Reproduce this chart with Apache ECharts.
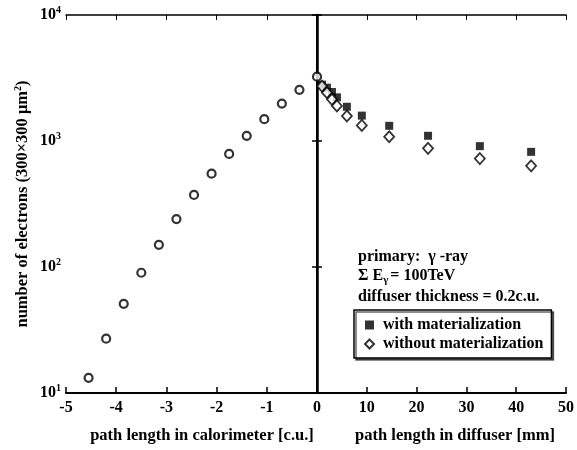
<!DOCTYPE html>
<html><head><meta charset="utf-8">
<script src="https://cdn.jsdelivr.net/npm/echarts@6/dist/echarts.min.js"></script>
<style>html,body{margin:0;padding:0;background:#fff}#c{width:577px;height:450px}</style>
</head><body><div id="c"></div>
<script>
// ---- data ----
const calX = [-4.55, -4.2, -3.85, -3.5, -3.15, -2.8, -2.45, -2.1, -1.75, -1.4, -1.05, -0.7, -0.35, 0];
const calY = [13.2, 27, 51, 90, 150, 240, 373, 550, 790, 1100, 1490, 1980, 2550, 3240];
const difX = [1, 2, 3, 4, 6, 9, 14.5, 22.3, 32.7, 43];
const withMat = [2800, 2650, 2450, 2220, 1870, 1590, 1320, 1100, 910, 820];
const withoutMat = [2730, 2420, 2140, 1900, 1580, 1330, 1080, 875, 725, 635];
const calTicks = [-5, -4, -3, -2, -1, 0];
const difTicks = [0, 10, 20, 30, 40, 50];
const legendNames = ['with materialization', 'without materialization'];
const xTitleCal = 'path length in calorimeter [c.u.]';
const xTitleDif = 'path length in diffuser [mm]';
const notes = ['primary:  \u03b3 -ray', '\u03a3 E', '\u03b3', '= 100TeV', 'diffuser thickness = 0.2c.u.'];

const FF = '"Liberation Serif", "DejaVu Serif", serif';
const txt = {fontFamily: FF, fontWeight: 'bold', color: '#000'};
const FS = 16;
const chart = echarts.init(document.getElementById('c'), null, {renderer: 'canvas'});
const L = 66, MID = 317, R = 566, T = 15, B = 393;
const line = {lineStyle: {color: '#000', width: 2}};
const supRich = {
  b: Object.assign({fontSize: FS}, txt),
  s: Object.assign({fontSize: 10, verticalAlign: 'bottom', padding: [0, 0, 10, 0]}, txt)
};
const logFmt = v => '{b|10}{s|' + Math.round(Math.log10(v)) + '}';
const gtext = (x, y, s, extra) => ({type: 'text', x: x, y: y,
  style: Object.assign({text: s, fontSize: FS, fontFamily: FF, fontWeight: 'bold', fill: '#000'}, extra || {})});

const option = {
  animation: false,
  grid: [
    {left: L, top: T, width: MID - L, height: B - T},
    {left: MID, top: T, width: R - MID, height: B - T}
  ],
  xAxis: [
    {gridIndex: 0, type: 'value', min: calTicks[0], max: calTicks[calTicks.length - 1], interval: 1,
     axisLine: line, axisTick: {inside: true, length: 6, lineStyle: {color: '#000', width: 1.5}},
     axisLabel: Object.assign({fontSize: FS, margin: 7}, txt), splitLine: {show: false}},
    {gridIndex: 1, type: 'value', min: difTicks[0], max: difTicks[difTicks.length - 1], interval: 10,
     axisLine: line, axisTick: {inside: true, length: 6, lineStyle: {color: '#000', width: 1.5}},
     axisLabel: Object.assign({fontSize: FS, margin: 7, showMinLabel: false}, txt), splitLine: {show: false}},
    {gridIndex: 0, type: 'value', position: 'top', min: -5, max: 0, interval: 1,
     axisLine: {lineStyle: {color: '#000', width: 1.5}}, axisTick: {inside: true, length: 5, lineStyle: {color: '#000'}},
     axisLabel: {show: false}, splitLine: {show: false}},
    {gridIndex: 1, type: 'value', position: 'top', min: 0, max: 50, interval: 10,
     axisLine: {lineStyle: {color: '#000', width: 1.5}}, axisTick: {inside: true, length: 5, lineStyle: {color: '#000'}},
     axisLabel: {show: false}, splitLine: {show: false}}
  ],
  yAxis: [
    {gridIndex: 0, type: 'log', logBase: 10, min: 10, max: 10000,
     axisLine: line, axisTick: {inside: true, length: 5, lineStyle: {color: '#000', width: 1.5}},
     axisLabel: {formatter: logFmt, rich: supRich, margin: 5}, splitLine: {show: false},
     name: 'number of electrons (300\u00d7300 \u03bcm{s|2})', nameLocation: 'middle', nameGap: 33,
     nameTextStyle: Object.assign({fontSize: 16.5, rich: {s: Object.assign({fontSize: 10, verticalAlign: 'bottom', padding: [0, 0, 10, 0]}, txt)}}, txt)},
    {gridIndex: 1, type: 'log', logBase: 10, min: 10, max: 10000,
     axisLine: {lineStyle: {color: '#000', width: 2.5}}, axisTick: {show: false},
     axisLabel: {show: false}, splitLine: {show: false}},
    {gridIndex: 1, type: 'log', logBase: 10, min: 10, max: 10000, position: 'right',
     axisLine: line, axisTick: {inside: true, length: 5, lineStyle: {color: '#000', width: 1.5}},
     axisLabel: {show: false}, splitLine: {show: false}}
  ],
  legend: {
    orient: 'vertical', left: 354, top: 310, padding: [7, 8, 6, 10], itemGap: 3,
    itemWidth: 9, itemHeight: 9, borderColor: '#000', borderWidth: 1.5, backgroundColor: '#fff',
    shadowColor: 'rgba(0,0,0,0.6)', shadowOffsetX: 2, shadowOffsetY: 2, shadowBlur: 0,
    textStyle: Object.assign({fontSize: FS, padding: [0, 0, 0, 4]}, txt),
    data: legendNames
  },
  graphic: [
    gtext(358, 257, notes[0], {textVerticalAlign: 'middle'}),
    {type: 'text', x: 358, y: 276, style: {
      text: '{b|' + notes[1] + '}{s|' + notes[2] + '}{b|' + notes[3] + '}', textVerticalAlign: 'middle',
      rich: {b: Object.assign({fontSize: FS}, txt), s: Object.assign({fontSize: 11, verticalAlign: 'top', padding: [9, 2, 0, 0]}, txt)}}},
    gtext(358, 297, notes[4], {textVerticalAlign: 'middle'}),
    gtext(202, 436, xTitleCal, {textAlign: 'center', textVerticalAlign: 'middle', fontSize: 16.5}),
    gtext(455, 436, xTitleDif, {textAlign: 'center', textVerticalAlign: 'middle', fontSize: 16.5})
  ],
  series: [
    {type: 'scatter', name: 'calorimeter', xAxisIndex: 0, yAxisIndex: 0, clip: false,
     symbol: 'circle', symbolSize: 8,
     itemStyle: {color: '#fff', borderColor: '#000', borderWidth: 2.2},
     data: calX.map((x, i) => [x, calY[i]]), z: 5},
    {type: 'scatter', name: legendNames[0], xAxisIndex: 1, yAxisIndex: 1, clip: false,
     symbol: 'rect', symbolSize: 8, itemStyle: {color: '#000'},
     data: difX.map((x, i) => [x, withMat[i]]), z: 3},
    {type: 'scatter', name: legendNames[1], xAxisIndex: 1, yAxisIndex: 1, clip: false,
     symbol: 'diamond', symbolSize: [10, 11],
     itemStyle: {color: '#fff', borderColor: '#000', borderWidth: 1.8},
     data: difX.map((x, i) => [x, withoutMat[i]]), z: 4}
  ]
};
chart.setOption(option);
</script></body></html>
